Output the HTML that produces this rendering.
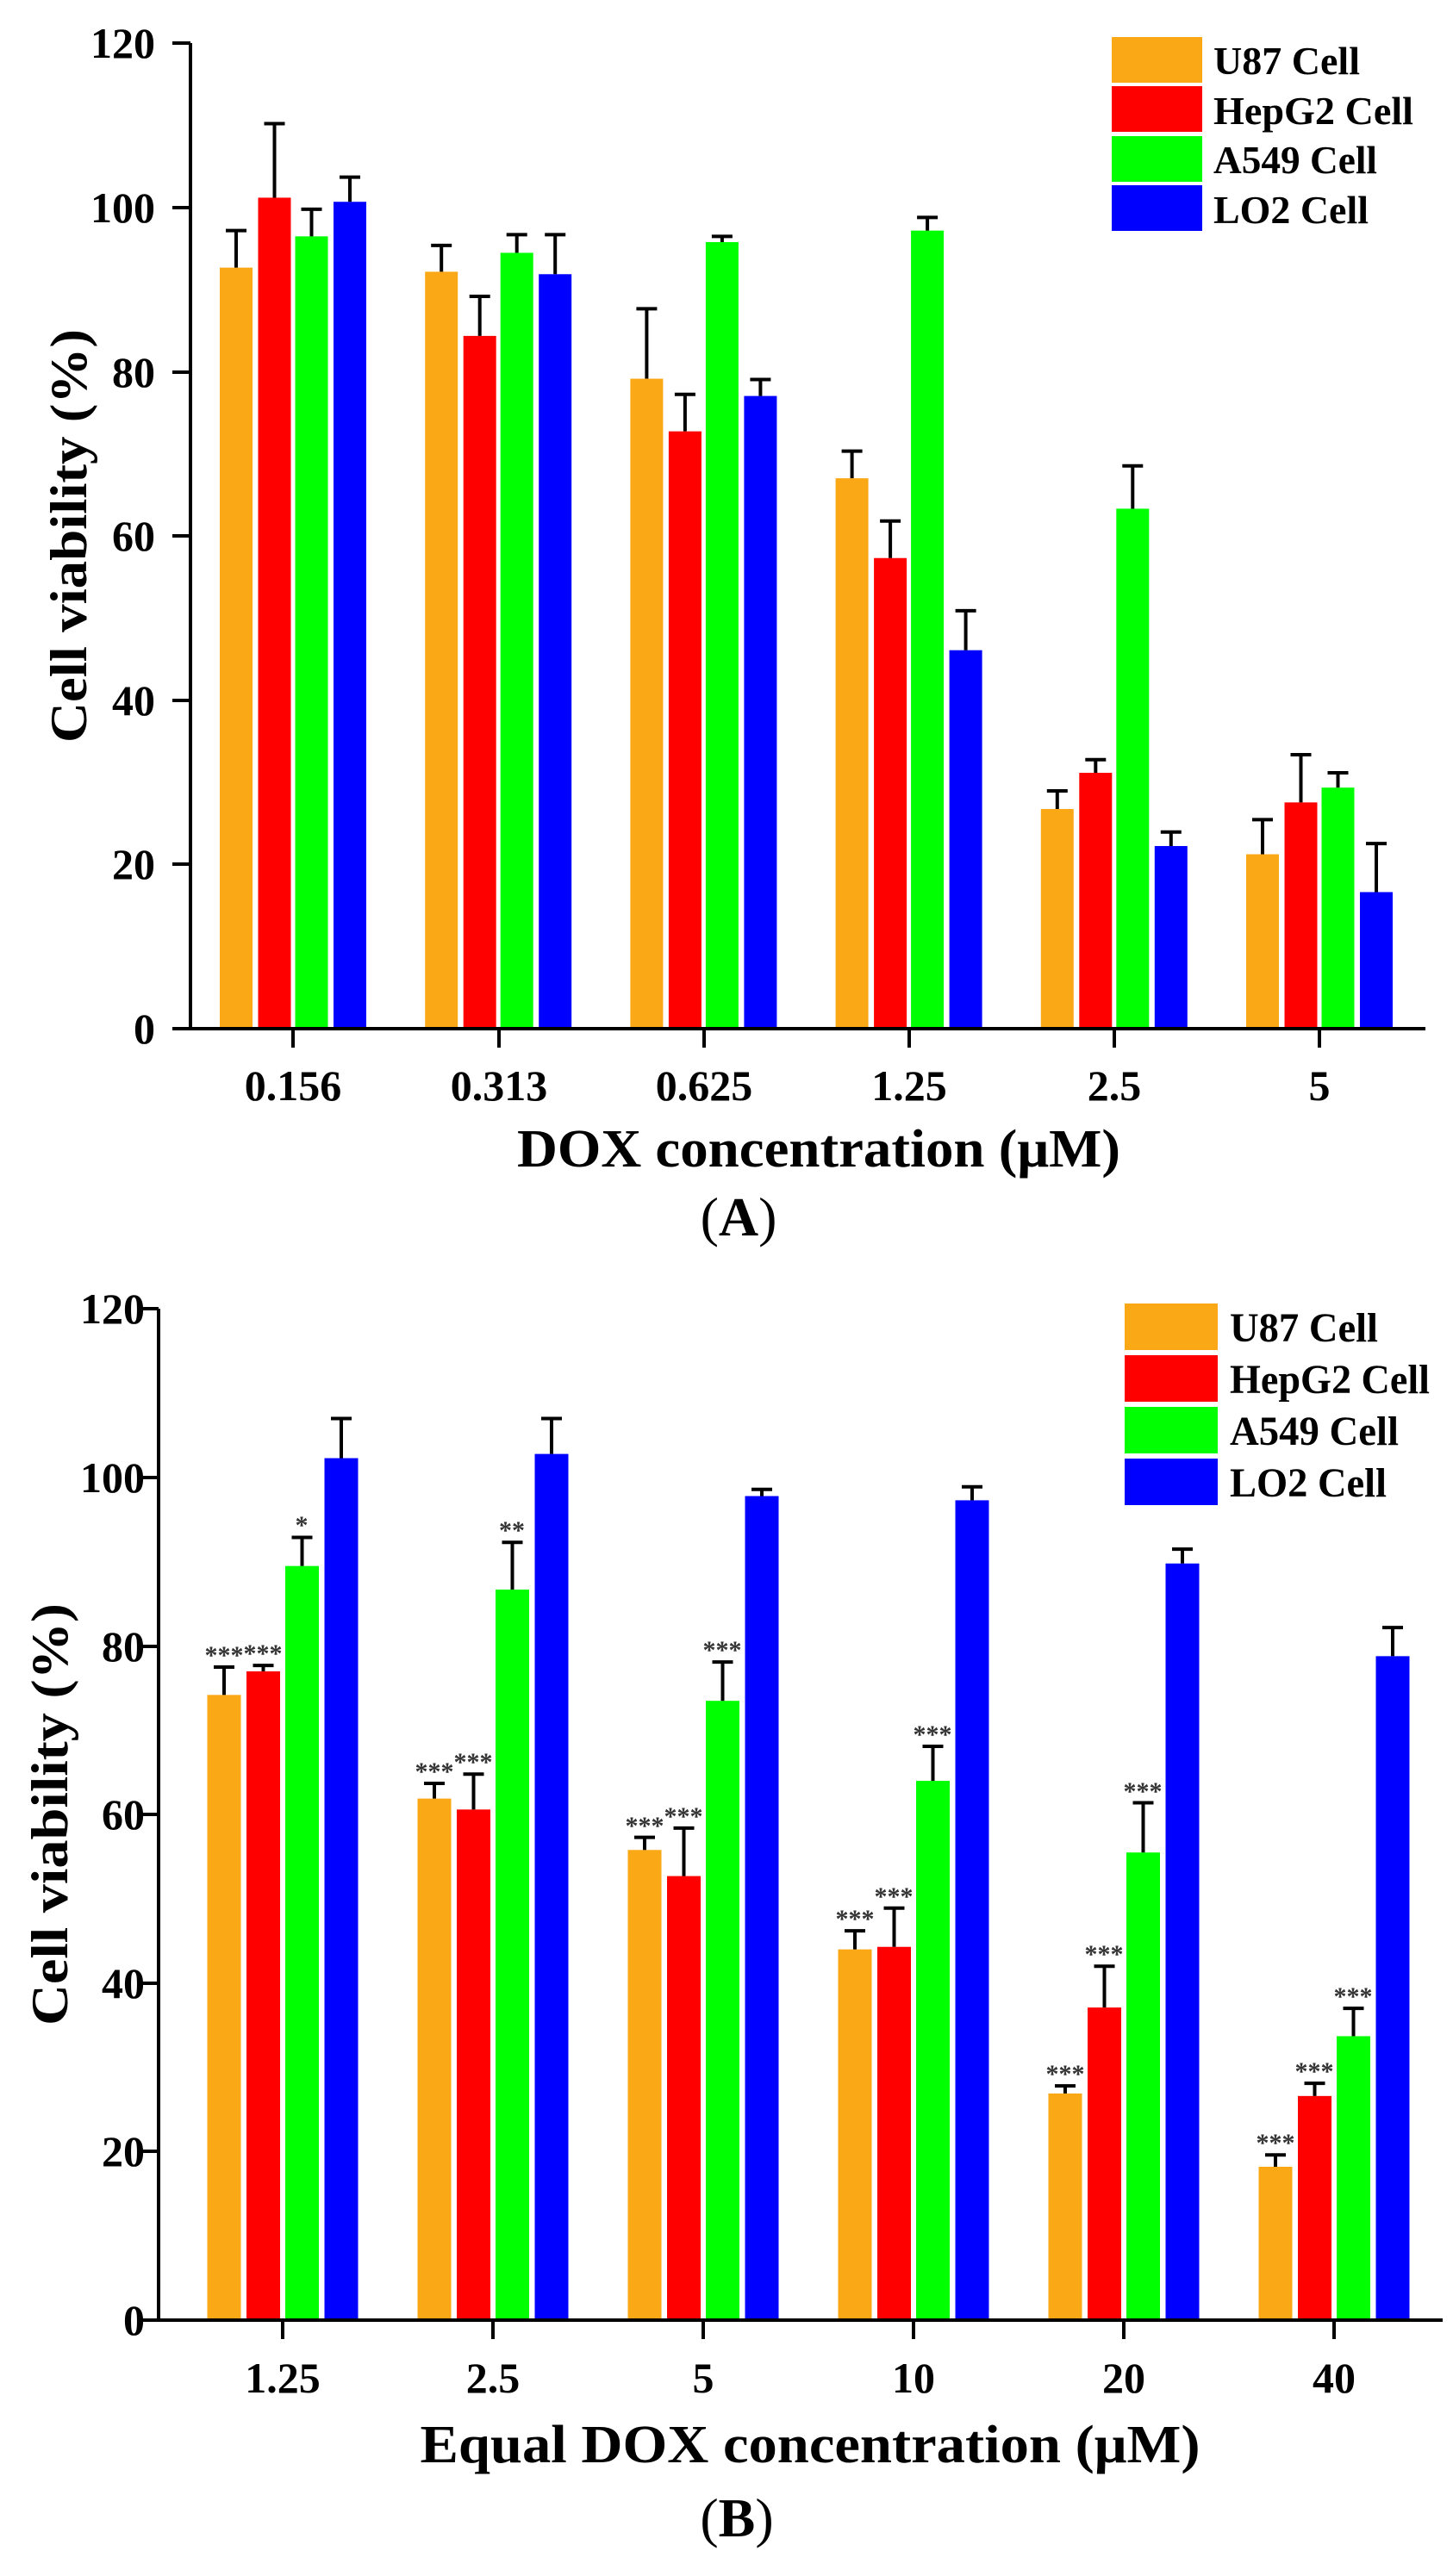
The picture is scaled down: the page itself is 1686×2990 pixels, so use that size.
<!DOCTYPE html>
<html><head><meta charset="utf-8"><style>
html,body{margin:0;padding:0;background:#fff;}
svg{display:block;font-family:"Liberation Serif",serif;font-weight:bold;}
</style></head><body>
<svg id="s" width="1686" height="2990" viewBox="0 0 1686 2990" xmlns="http://www.w3.org/2000/svg">
<rect width="1686" height="2990" fill="#fff"/>
<g id="bars"></g>
<g stroke="#000" stroke-width="4" fill="none">
<line x1="221" y1="50" x2="221" y2="1196"/>
<line x1="200" y1="1194" x2="1654" y2="1194"/>
<line x1="200" y1="50" x2="221" y2="50"/>
<line x1="200" y1="241" x2="221" y2="241"/>
<line x1="200" y1="432" x2="221" y2="432"/>
<line x1="200" y1="622" x2="221" y2="622"/>
<line x1="200" y1="813" x2="221" y2="813"/>
<line x1="200" y1="1003" x2="221" y2="1003"/>
<line x1="340" y1="1194" x2="340" y2="1216"/>
<line x1="579" y1="1194" x2="579" y2="1216"/>
<line x1="817" y1="1194" x2="817" y2="1216"/>
<line x1="1055" y1="1194" x2="1055" y2="1216"/>
<line x1="1293" y1="1194" x2="1293" y2="1216"/>
<line x1="1531" y1="1194" x2="1531" y2="1216"/>
</g>
<g font-size="50" text-anchor="end">
<text x="180" y="67">120</text>
<text x="180" y="258">100</text>
<text x="180" y="449">80</text>
<text x="180" y="639">60</text>
<text x="180" y="830">40</text>
<text x="180" y="1020">20</text>
<text x="180" y="1211">0</text>
</g>
<g font-size="50" text-anchor="middle">
<text x="340" y="1277">0.156</text>
<text x="579" y="1277">0.313</text>
<text x="817" y="1277">0.625</text>
<text x="1055" y="1277">1.25</text>
<text x="1293" y="1277">2.5</text>
<text x="1531" y="1277">5</text>
</g>
<text x="950" y="1354" font-size="62" text-anchor="middle" textLength="700" lengthAdjust="spacingAndGlyphs">DOX concentration (μM)</text>
<text transform="translate(100,622) rotate(-90)" font-size="60" text-anchor="middle" textLength="480" lengthAdjust="spacingAndGlyphs">Cell viability (%)</text>
<text x="857" y="1434" font-size="64" text-anchor="middle" font-weight="normal">(<tspan font-weight="bold">A</tspan>)</text>
<g>
<rect x="1290" y="43" width="105" height="53" fill="#FBA817"/>
<rect x="1290" y="100" width="105" height="53" fill="#FF0000"/>
<rect x="1290" y="158" width="105" height="53" fill="#00FF00"/>
<rect x="1290" y="215" width="105" height="53" fill="#0000FF"/>
</g>
<g font-size="46">
<text x="1408" y="86" textLength="170" lengthAdjust="spacingAndGlyphs">U87 Cell</text>
<text x="1408" y="144" textLength="232" lengthAdjust="spacingAndGlyphs">HepG2 Cell</text>
<text x="1408" y="201" textLength="190" lengthAdjust="spacingAndGlyphs">A549 Cell</text>
<text x="1408" y="259" textLength="180" lengthAdjust="spacingAndGlyphs">LO2 Cell</text>
</g>

<g stroke="#000" stroke-width="4" fill="none">
<line x1="184" y1="1519" x2="184" y2="2695"/>
<line x1="164" y1="2693" x2="1674" y2="2693"/>
<line x1="164" y1="1519" x2="184" y2="1519"/>
<line x1="164" y1="1715" x2="184" y2="1715"/>
<line x1="164" y1="1911" x2="184" y2="1911"/>
<line x1="164" y1="2106" x2="184" y2="2106"/>
<line x1="164" y1="2302" x2="184" y2="2302"/>
<line x1="164" y1="2497" x2="184" y2="2497"/>
<line x1="328" y1="2693" x2="328" y2="2715"/>
<line x1="572" y1="2693" x2="572" y2="2715"/>
<line x1="816" y1="2693" x2="816" y2="2715"/>
<line x1="1060" y1="2693" x2="1060" y2="2715"/>
<line x1="1304" y1="2693" x2="1304" y2="2715"/>
<line x1="1548" y1="2693" x2="1548" y2="2715"/>
</g>
<g font-size="50" text-anchor="end">
<text x="168" y="1536">120</text>
<text x="168" y="1732">100</text>
<text x="168" y="1928">80</text>
<text x="168" y="2123">60</text>
<text x="168" y="2319">40</text>
<text x="168" y="2514">20</text>
<text x="168" y="2710">0</text>
</g>
<g font-size="50" text-anchor="middle">
<text x="328" y="2777">1.25</text>
<text x="572" y="2777">2.5</text>
<text x="816" y="2777">5</text>
<text x="1060" y="2777">10</text>
<text x="1304" y="2777">20</text>
<text x="1548" y="2777">40</text>
</g>
<text x="940" y="2858" font-size="62" text-anchor="middle" textLength="905" lengthAdjust="spacingAndGlyphs">Equal DOX concentration (μM)</text>
<text transform="translate(78,2106) rotate(-90)" font-size="60" text-anchor="middle" textLength="490" lengthAdjust="spacingAndGlyphs">Cell viability (%)</text>
<text x="855" y="2944" font-size="64" text-anchor="middle" font-weight="normal">(<tspan font-weight="bold">B</tspan>)</text>
<g>
<rect x="1305" y="1513" width="108" height="54" fill="#FBA817"/>
<rect x="1305" y="1573" width="108" height="54" fill="#FF0000"/>
<rect x="1305" y="1633" width="108" height="54" fill="#00FF00"/>
<rect x="1305" y="1693" width="108" height="54" fill="#0000FF"/>
</g>
<g font-size="48">
<text x="1427" y="1557" textLength="172" lengthAdjust="spacingAndGlyphs">U87 Cell</text>
<text x="1427" y="1617" textLength="232" lengthAdjust="spacingAndGlyphs">HepG2 Cell</text>
<text x="1427" y="1677" textLength="196" lengthAdjust="spacingAndGlyphs">A549 Cell</text>
<text x="1427" y="1737" textLength="182" lengthAdjust="spacingAndGlyphs">LO2 Cell</text>
</g>
<g font-size="30" fill="#333" text-anchor="middle">
<text x="260" y="1931">***</text>
<text x="305" y="1929">***</text>
<text x="350" y="1780">*</text>
<text x="504" y="2066">***</text>
<text x="549" y="2055">***</text>
<text x="594" y="1786">**</text>
<text x="748" y="2129">***</text>
<text x="793" y="2118">***</text>
<text x="838" y="1925">***</text>
<text x="992" y="2237">***</text>
<text x="1037" y="2211">***</text>
<text x="1082" y="2023">***</text>
<text x="1236" y="2417">***</text>
<text x="1281" y="2278">***</text>
<text x="1326" y="2089">***</text>
<text x="1480" y="2497">***</text>
<text x="1525" y="2414">***</text>
<text x="1570" y="2327">***</text>
</g>
</svg>
<script>
(function(){
var cols=["#FBA817","#FF0000","#00FF00","#0000FF"];
var g=document.getElementById("bars");var NS="http://www.w3.org/2000/svg";
function el(t,a){var e=document.createElementNS(NS,t);for(var k in a)e.setAttribute(k,a[k]);g.appendChild(e);}
function chart(c0,dc,offs,w,y0,k,data){
 data.forEach(function(grp,i){
  var c=c0+dc*i;
  grp.forEach(function(d,j){
   var cx=c+offs[j],yt=y0-k*d[0],ye=y0-k*(d[0]+d[1]);
   el("rect",{x:cx-w/2,y:yt,width:w,height:y0-yt,fill:cols[j]});
   el("line",{x1:cx,y1:yt,x2:cx,y2:ye,stroke:"#000","stroke-width":4});
   el("line",{x1:cx-12,y1:ye,x2:cx+12,y2:ye,stroke:"#000","stroke-width":4});
  });
 });
}
chart(340,238.2,[-66,-21.5,21.5,66],38,1194,9.55,[
[[92.5,4.5],[101,9],[96.3,3.3],[100.5,3]],
[[92,3.2],[84.2,4.8],[94.3,2.2],[91.7,4.8]],
[[79,8.5],[72.6,4.5],[95.6,0.7],[76.9,2]],
[[66.9,3.3],[57.2,4.5],[97,1.6],[46,4.8]],
[[26.7,2.2],[31.1,1.6],[63.2,5.2],[22.2,1.7]],
[[21.2,4.2],[27.5,5.8],[29.3,1.8],[16.6,5.9]]]);
chart(328,244,[-68,-22.5,22.5,68],39,2693,9.78,[
[[74.2,3.3],[77,0.7],[89.5,3.4],[102.3,4.7]],
[[61.9,1.8],[60.6,4.2],[86.7,5.6],[102.8,4.2]],
[[55.8,1.5],[52.7,5.7],[73.5,4.6],[97.8,0.8]],
[[44,2.2],[44.3,4.6],[64,4.1],[97.3,1.6]],
[[26.9,0.9],[37.1,4.9],[55.5,5.9],[89.8,1.7]],
[[18.2,1.4],[26.6,1.5],[33.7,3.3],[78.8,3.4]]]);
})();
</script>
</body></html>
